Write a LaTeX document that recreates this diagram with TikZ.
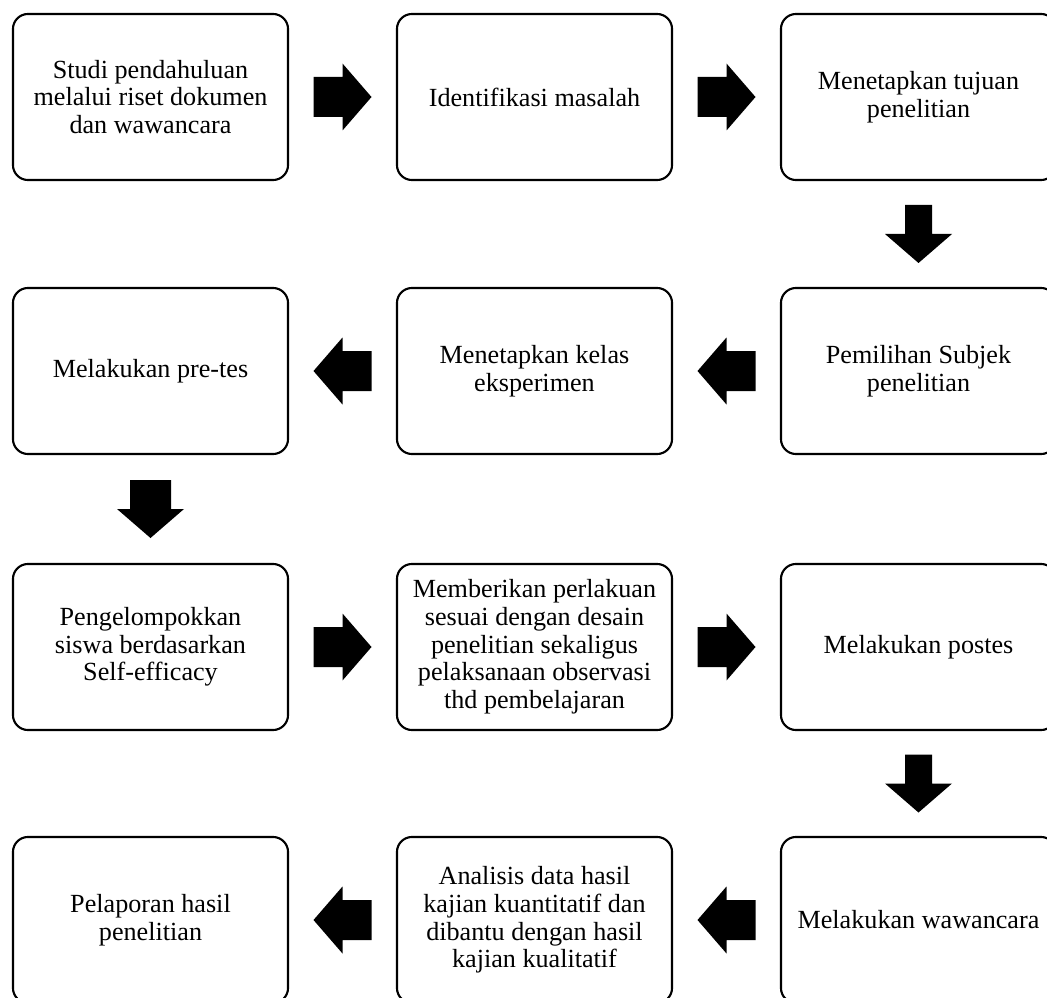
\documentclass[tikz,border=0pt]{standalone}
\usepackage{fontspec}
\setmainfont{Liberation Serif}
\usetikzlibrary{calc}

\tikzset{
  stepbox/.style={draw, line width=1.5pt, rounded corners=0.375cm,
    minimum width=6.875cm, minimum height=4.15cm, inner sep=0pt,
    align=center, font=\fontsize{18.6}{19.7}\selectfont},
  % block arrow pointing right, argument = half shaft width
  blockarrow/.pic={
    \fill (-29,-#1) -- (0,-#1) -- (0,-33.5) -- (29,0) -- (0,33.5)
      -- (0,#1) -- (-29,#1) -- cycle;
  }
}

\begin{document}
\begin{tikzpicture}[x=0.025cm, y=-0.025cm, line join=round]
  % Picture window (pixel coordinates, y downwards)
  \def\xmin{0} \def\xmax{1047}
  \def\ymin{0} \def\ymax{998}
  \useasboundingbox (\xmin,\ymin) rectangle (\xmax,\ymax);
  \clip (\xmin,\ymin) rectangle (\xmax,\ymax);

  % Columns and rows
  \def\colA{150.5} \def\colB{534.5} \def\colC{918.5}
  \def\rowA{97} \def\rowB{371} \def\rowC{647} \def\rowD{920}

  % Row 1
  \node[stepbox] (studi) at (\colA,\rowA) {Studi pendahuluan\\melalui riset dokumen\\dan wawancara};
  \node[stepbox] (identifikasi) at (\colB,\rowA) {Identifikasi masalah};
  \node[stepbox] (tujuan) at (\colC,\rowA) {Menetapkan tujuan\\penelitian};

  % Row 2
  \node[stepbox] (pretes) at (\colA,\rowB) {Melakukan pre-tes};
  \node[stepbox] (kelas) at (\colB,\rowB) {Menetapkan kelas\\eksperimen};
  \node[stepbox] (subjek) at (\colC,\rowB) {Pemilihan Subjek\\penelitian};

  % Row 3
  \node[stepbox] (kelompok) at (\colA,\rowC) {Pengelompokkan\\siswa berdasarkan\\Self-efficacy};
  \node[stepbox] (perlakuan) at (\colB,\rowC) {Memberikan perlakuan\\sesuai dengan desain\\penelitian sekaligus\\pelaksanaan observasi\\thd pembelajaran};
  \node[stepbox] (postes) at (\colC,\rowC) {Melakukan postes};

  % Row 4
  \node[stepbox] (laporan) at (\colA,\rowD) {Pelaporan hasil\\penelitian};
  \node[stepbox] (analisis) at (\colB,\rowD) {Analisis data hasil\\kajian kuantitatif dan\\dibantu dengan hasil\\kajian kualitatif};
  \node[stepbox] (wawancara) at (\colC,\rowD) {Melakukan wawancara};

  % Block arrows between the steps
  \pic at ($(studi.east)!0.5!(identifikasi.west)$) {blockarrow=20};
  \pic at ($(identifikasi.east)!0.5!(tujuan.west)$) {blockarrow=20};
  \pic[rotate=-90] at ($(tujuan.south)!0.5!(subjek.north)$) {blockarrow=13.5};
  \pic[rotate=180] at ($(subjek.west)!0.5!(kelas.east)$) {blockarrow=20};
  \pic[rotate=180] at ($(kelas.west)!0.5!(pretes.east)$) {blockarrow=20};
  \pic[rotate=-90] at ($(pretes.south)!0.5!(kelompok.north)$) {blockarrow=20.5};
  \pic at ($(kelompok.east)!0.5!(perlakuan.west)$) {blockarrow=20};
  \pic at ($(perlakuan.east)!0.5!(postes.west)$) {blockarrow=20};
  \pic[rotate=-90] at ($(postes.south)!0.5!(wawancara.north)$) {blockarrow=13.5};
  \pic[rotate=180] at ($(wawancara.west)!0.5!(analisis.east)$) {blockarrow=20};
  \pic[rotate=180] at ($(analisis.west)!0.5!(laporan.east)$) {blockarrow=20};
\end{tikzpicture}
\end{document}
